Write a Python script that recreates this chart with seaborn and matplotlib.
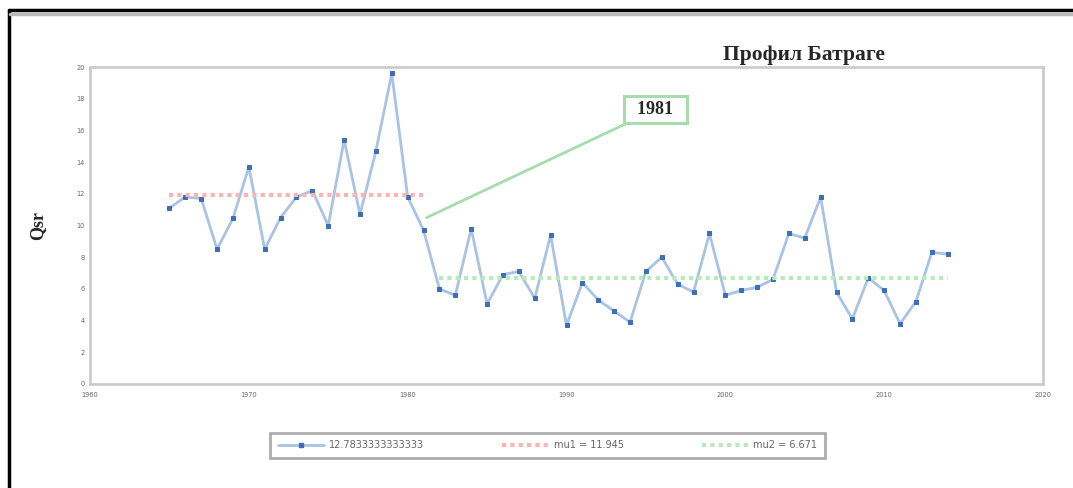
import numpy as np
import pandas as pd
import matplotlib
matplotlib.use("Agg")
import matplotlib.pyplot as plt
from matplotlib.lines import Line2D
import seaborn as sns

years = list(range(1965, 2015))
qsr = [11.1, 11.8, 11.7, 8.5, 10.45, 13.7, 8.5, 10.5, 11.8, 12.2,
       10.0, 15.4, 10.7, 14.7, 19.6, 11.8, 9.7, 6.0, 5.6, 9.8,
       5.05, 6.9, 7.1, 5.4, 9.4, 3.7, 6.4, 5.3, 4.6, 3.9,
       7.1, 8.0, 6.3, 5.8, 9.5, 5.6, 5.9, 6.1, 6.6, 9.5,
       9.2, 11.8, 5.8, 4.1, 6.7, 5.9, 3.8, 5.2, 8.3, 8.2]
mu1_years = [1965, 1981]
mu1_vals = [11.945, 11.945]
mu2_years = [1982, 2014]
mu2_vals = [6.671, 6.671]
series_label = "12.7833333333333"
mu1_label = "mu1 = 11.945"
mu2_label = "mu2 = 6.671"
x_ticks = [1960, 1970, 1980, 1990, 2000, 2010, 2020]
y_ticks = list(range(0, 21, 2))
title = "Профил Батраге"
ylabel = "Qsr"
annot_text = "1981"
annot_point = (1981.2, 10.5)
annot_text_pos = (1995.6, 17.3)

df = pd.DataFrame({"year": years, "qsr": qsr})

sns.set_style("white")
plt.rcParams['font.family'] = ['DejaVu Sans']

fig = plt.figure(figsize=(10.73, 4.88), dpi=100)
ax = fig.add_axes([90/1073, 1-384/488, (1043-90)/1073, (384-67)/488])

sns.lineplot(data=df, x="year", y="qsr", ax=ax, color="#a9c3e4", lw=2.0,
             marker="s", markersize=3.5, markerfacecolor="#3c6fb6",
             markeredgecolor="#3c6fb6", label=series_label, legend=False)
sns.lineplot(x=mu1_years, y=mu1_vals, ax=ax, color="#ffb3b3", lw=3,
             linestyle=(0, (1, 1)), label=mu1_label, legend=False)
sns.lineplot(x=mu2_years, y=mu2_vals, ax=ax, color="#b9eab9", lw=3,
             linestyle=(0, (1, 1)), label=mu2_label, legend=False)

ax.set_xlim(1960, 2020)
ax.set_ylim(0, 20)
ax.set_xticks(x_ticks)
ax.set_yticks(y_ticks)
ax.tick_params(axis="both", labelsize=4.8, labelcolor="#666666", colors="#c8c8c8",
               length=3, width=1.5, direction="in")
ax.tick_params(axis="x", pad=6)
for s in ax.spines.values():
    s.set_color("#cccccc")
    s.set_linewidth(2)
ax.set_xlabel("")
ax.set_ylabel(ylabel, fontsize=13, fontweight="bold", family="Liberation Serif",
              labelpad=22)

ax.annotate("  " + annot_text + "  ", xy=annot_point, xytext=annot_text_pos,
            fontsize=13, fontweight="bold", family="Liberation Serif",
            ha="center", va="center",
            bbox=dict(boxstyle="square,pad=0.27", fc="white", ec="#a6dcae", lw=2.2),
            arrowprops=dict(arrowstyle="-", color="#a6dcae", lw=2,
                            shrinkA=0, shrinkB=0))

fig.text(804/1073, 1-55/488, title, fontsize=15.5, fontweight="bold",
         family="Liberation Serif", ha="center", va="center")

handles = [
    Line2D([], [], color="#a9c3e4", lw=2, marker="s", markersize=3.5,
           markerfacecolor="#3c6fb6", markeredgecolor="#3c6fb6"),
    Line2D([], [], color="#ffb3b3", lw=3, linestyle=(0, (1, 1))),
    Line2D([], [], color="#b9eab9", lw=3, linestyle=(0, (1, 1))),
]
leg = fig.legend(handles, [series_label, mu1_label, mu2_label], ncol=3,
                 loc="center", mode="expand",
                 bbox_to_anchor=(270/1073, 1-459/488, 555/1073, 27/488),
                 fontsize=7, frameon=True, fancybox=False, handlelength=4.8,
                 handletextpad=0.5, columnspacing=2.4, borderpad=0.8,
                 borderaxespad=0)
leg.get_frame().set_edgecolor("#999999")
leg.get_frame().set_linewidth(2)
for t in leg.get_texts():
    t.set_color("#666666")

fig.add_artist(Line2D([9/1073, 9/1073], [0, 1-10/488], color="black", lw=2.5,
                      transform=fig.transFigure))
fig.add_artist(Line2D([9/1073, 1], [1-10/488, 1-10/488], color="black", lw=2.5,
                      transform=fig.transFigure))
fig.add_artist(Line2D([10/1073, 1], [1-14/488, 1-14/488], color="#bbbbbb", lw=2.5,
                      transform=fig.transFigure))

fig.savefig("out.png", dpi=100)
